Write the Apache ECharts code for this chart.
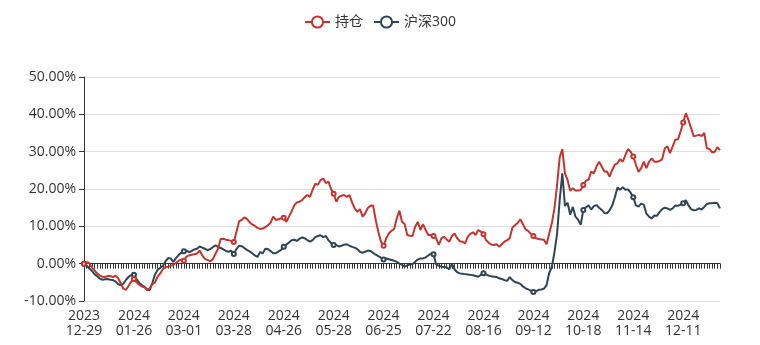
<!DOCTYPE html>
<html>
<head>
<meta charset="utf-8">
<script src="https://cdn.jsdelivr.net/npm/echarts@6/dist/echarts.min.js"></script>
<style>
  html, body { margin: 0; padding: 0; background: #fff; }
  #chart { width: 760px; height: 345px; }
</style>
</head>
<body>
<div id="chart"></div>
<script>
// Trading days, 2023-12-29 through 2024-12-31
const dates = [
  '2023-12-29',
  '2024-01-02','2024-01-03','2024-01-04','2024-01-05','2024-01-08','2024-01-09','2024-01-10','2024-01-11','2024-01-12',
  '2024-01-15','2024-01-16','2024-01-17','2024-01-18','2024-01-19','2024-01-22','2024-01-23','2024-01-24','2024-01-25',
  '2024-01-26','2024-01-29','2024-01-30','2024-01-31',
  '2024-02-01','2024-02-02','2024-02-05','2024-02-06','2024-02-07','2024-02-08','2024-02-19','2024-02-20','2024-02-21',
  '2024-02-22','2024-02-23','2024-02-26','2024-02-27','2024-02-28','2024-02-29',
  '2024-03-01','2024-03-04','2024-03-05','2024-03-06','2024-03-07','2024-03-08','2024-03-11','2024-03-12','2024-03-13',
  '2024-03-14','2024-03-15','2024-03-18','2024-03-19','2024-03-20','2024-03-21','2024-03-22','2024-03-25','2024-03-26',
  '2024-03-27','2024-03-28','2024-03-29',
  '2024-04-01','2024-04-02','2024-04-03','2024-04-08','2024-04-09','2024-04-10','2024-04-11','2024-04-12','2024-04-15',
  '2024-04-16','2024-04-17','2024-04-18','2024-04-19','2024-04-22','2024-04-23','2024-04-24','2024-04-25','2024-04-26',
  '2024-04-29','2024-04-30',
  '2024-05-06','2024-05-07','2024-05-08','2024-05-09','2024-05-10','2024-05-13','2024-05-14','2024-05-15','2024-05-16',
  '2024-05-17','2024-05-20','2024-05-21','2024-05-22','2024-05-23','2024-05-24','2024-05-27','2024-05-28','2024-05-29',
  '2024-05-30','2024-05-31',
  '2024-06-03','2024-06-04','2024-06-05','2024-06-06','2024-06-07','2024-06-11','2024-06-12','2024-06-13','2024-06-14',
  '2024-06-17','2024-06-18','2024-06-19','2024-06-20','2024-06-21','2024-06-24','2024-06-25','2024-06-26','2024-06-27',
  '2024-06-28',
  '2024-07-01','2024-07-02','2024-07-03','2024-07-04','2024-07-05','2024-07-08','2024-07-09','2024-07-10','2024-07-11',
  '2024-07-12','2024-07-15','2024-07-16','2024-07-17','2024-07-18','2024-07-19','2024-07-22','2024-07-23','2024-07-24',
  '2024-07-25','2024-07-26','2024-07-29','2024-07-30','2024-07-31',
  '2024-08-01','2024-08-02','2024-08-05','2024-08-06','2024-08-07','2024-08-08','2024-08-09','2024-08-12','2024-08-13',
  '2024-08-14','2024-08-15','2024-08-16','2024-08-19','2024-08-20','2024-08-21','2024-08-22','2024-08-23','2024-08-26',
  '2024-08-27','2024-08-28','2024-08-29','2024-08-30',
  '2024-09-02','2024-09-03','2024-09-04','2024-09-05','2024-09-06','2024-09-09','2024-09-10','2024-09-11','2024-09-12',
  '2024-09-13','2024-09-18','2024-09-19','2024-09-20','2024-09-23','2024-09-24','2024-09-25','2024-09-26','2024-09-27',
  '2024-09-30',
  '2024-10-08','2024-10-09','2024-10-10','2024-10-11','2024-10-14','2024-10-15','2024-10-16','2024-10-17','2024-10-18',
  '2024-10-21','2024-10-22','2024-10-23','2024-10-24','2024-10-25','2024-10-28','2024-10-29','2024-10-30','2024-10-31',
  '2024-11-01','2024-11-04','2024-11-05','2024-11-06','2024-11-07','2024-11-08','2024-11-11','2024-11-12','2024-11-13',
  '2024-11-14','2024-11-15','2024-11-18','2024-11-19','2024-11-20','2024-11-21','2024-11-22','2024-11-25','2024-11-26',
  '2024-11-27','2024-11-28','2024-11-29',
  '2024-12-02','2024-12-03','2024-12-04','2024-12-05','2024-12-06','2024-12-09','2024-12-10','2024-12-11','2024-12-12',
  '2024-12-13','2024-12-16','2024-12-17','2024-12-18','2024-12-19','2024-12-20','2024-12-23','2024-12-24','2024-12-25',
  '2024-12-26','2024-12-27','2024-12-30','2024-12-31'
];

// Cumulative return of the portfolio, percent
const holdings = [
  0, 0.4, 0.2, -1.0, -1.8, -2.6, -3.2, -3.5, -3.6, -3.3,
  -3.3, -3.6, -3.2, -3.9, -5.3, -6.7, -7.0, -5.9, -4.8, -4.1,
  -5.0, -5.6, -6.1, -6.3, -7.1, -6.6, -5.5, -5.0, -3.5, -2.6,
  -1.5, -0.9, -0.8, -0.6, -0.3, 0.2, 0.8, 1.1, 0.8, 1.9,
  2.2, 2.4, 2.5, 2.7, 3.5, 2.2, 1.3, 1.0, 0.6, 1.2,
  2.6, 4.0, 6.6, 6.7, 6.4, 6.3, 6.1, 5.8, 8.5, 11.3,
  11.7, 12.4, 12.0, 11.1, 10.5, 10.1, 9.6, 9.3, 9.4, 9.8,
  10.3, 11.0, 12.6, 11.7, 11.9, 12.2, 12.3, 11.2, 12.6, 14.0,
  15.6, 16.4, 16.6, 17.0, 17.8, 18.4, 17.9, 19.8, 21.4, 21.1,
  22.4, 22.8, 21.6, 22.0, 20.0, 18.7, 16.6, 17.9, 18.2, 18.4,
  17.9, 18.4, 16.4, 14.8, 13.9, 14.6, 12.6, 13.5, 14.9, 15.5,
  15.6, 11.7, 8.5, 5.9, 4.8, 6.8, 8.1, 8.8, 9.3, 12.1,
  14.2, 11.2, 10.6, 7.7, 7.5, 7.4, 9.9, 11.2, 9.0, 10.6,
  9.0, 7.7, 7.7, 7.4, 6.8, 5.0, 6.8, 7.2, 6.5, 5.9,
  7.4, 8.1, 6.8, 6.0, 5.9, 5.4, 7.2, 8.0, 8.4, 7.7,
  9.0, 8.6, 7.9, 6.3, 5.6, 5.1, 5.0, 5.2, 4.5, 5.2,
  5.9, 6.3, 6.8, 9.6, 10.3, 10.9, 11.9, 10.6, 9.2, 8.8,
  8.0, 7.4, 6.8, 6.6, 6.5, 6.4, 5.2, 8.0, 10.8, 14.8,
  21.0, 28.5, 30.7, 24.2, 22.4, 19.5, 20.2, 19.6, 19.6, 19.7,
  21.1, 22.2, 22.5, 24.7, 24.2, 26.0, 27.3, 26.0, 24.7, 24.7,
  23.3, 25.1, 26.5, 26.9, 28.0, 27.3, 29.1, 30.7, 30.0, 28.7,
  26.5, 24.6, 25.6, 27.3, 25.6, 27.3, 28.2, 27.3, 27.3, 27.5,
  28.0, 30.9, 31.4, 29.6, 31.4, 33.2, 33.3, 35.4, 37.8, 40.3,
  38.5, 36.3, 34.1, 34.3, 34.5, 34.2, 35.0, 30.9, 30.7, 29.8,
  30.0, 31.2, 30.4
];

// Cumulative return of the CSI 300 index, percent
const csi300 = [
  0, -0.5, -1.3, -1.9, -2.8, -3.4, -4.0, -4.3, -4.2, -4.1,
  -4.3, -4.4, -4.8, -5.5, -5.8, -5.3, -4.3, -3.5, -3.1, -3.0,
  -4.1, -5.1, -5.7, -6.2, -6.9, -7.1, -5.2, -2.9, -1.7, -1.1,
  -0.6, 0.6, 1.5, 1.4, 0.5, 1.5, 2.3, 2.9, 3.3, 3.5,
  3.1, 3.4, 3.8, 4.0, 4.6, 4.3, 4.0, 3.6, 3.9, 4.4,
  4.9, 4.5, 4.2, 3.8, 3.4, 3.2, 3.5, 2.6, 3.9, 4.8,
  4.7, 4.2, 3.7, 3.3, 2.8, 2.2, 1.8, 3.1, 2.8, 4.0,
  3.9, 3.4, 2.8, 2.8, 3.3, 3.7, 4.5, 5.1, 5.7, 6.3,
  6.4, 6.1, 6.7, 7.0, 6.8, 6.3, 5.9, 6.3, 7.1, 7.4,
  7.6, 7.1, 7.4, 6.3, 5.5, 5.0, 5.0, 4.6, 4.8, 5.1,
  5.2, 4.8, 4.5, 4.3, 3.9, 3.2, 2.9, 3.2, 3.5, 3.4,
  2.9, 2.4, 2.0, 1.6, 1.1, 1.4, 1.2, 1.0, 0.8, 0.5,
  0.0, -0.3, -0.8, -0.5, -0.1, -0.2, 0.5, 1.1, 1.4, 1.4,
  1.7, 2.2, 2.7, 2.5, -0.2, -0.6, -0.8, -0.9, -1.0, -1.5,
  -0.1, -1.5, -2.3, -2.6, -2.7, -2.8, -2.9, -3.0, -3.1, -3.3,
  -3.5, -3.0, -2.6, -2.9, -3.2, -3.4, -3.5, -3.6, -3.9, -4.1,
  -4.4, -4.6, -3.6, -4.4, -4.9, -5.1, -5.4, -6.1, -6.6, -6.9,
  -7.2, -7.6, -7.4, -7.0, -6.9, -6.7, -5.8, -2.5, -0.9, 3.0,
  8.0, 17.0, 24.2, 15.5, 16.3, 13.1, 15.2, 12.6, 11.8, 10.4,
  14.4, 15.1, 15.6, 14.5, 15.4, 15.7, 15.0, 14.4, 13.6, 13.5,
  14.3, 15.6, 17.8, 20.4, 19.8, 20.5, 19.8, 19.9, 19.0, 17.8,
  15.6, 15.3, 16.1, 15.8, 13.4, 12.6, 12.1, 12.9, 12.8, 13.8,
  14.6, 15.0, 14.8, 14.4, 14.8, 15.6, 15.5, 15.8, 16.2, 17.0,
  15.6, 14.6, 14.3, 14.4, 14.8, 14.5, 15.2, 16.0, 16.2, 16.2,
  16.3, 16.2, 14.8
];

const seriesNames = ['持仓', '沪深300'];
const palette = ['#c23531', '#2f4554'];
const yTicks = { min: -10, max: 50, step: 10 };

const FONT = '"Open Sans", "Noto Sans CJK SC", sans-serif';
const chart = echarts.init(document.getElementById('chart'), null, { renderer: 'canvas' });

chart.setOption({
  animation: false,
  color: palette,
  textStyle: { fontFamily: FONT },
  legend: {
    top: 10,
    left: 'center',
    itemWidth: 25,
    itemHeight: 14,
    itemGap: 10,
    textStyle: { fontSize: 14, color: '#333', fontFamily: FONT },
    data: seriesNames
  },
  grid: {
    left: 84, right: 40, top: 77, bottom: 44,
    containLabel: false,
    outerBoundsMode: 'none'
  },
  xAxis: {
    type: 'category',
    data: dates,
    boundaryGap: false,
    axisLine: { onZero: true, lineStyle: { color: '#333', width: 1 } },
    axisTick: { show: true, interval: 0, length: 5, lineStyle: { color: '#333' } },
    axisLabel: {
      interval: 18,
      margin: 8,
      fontSize: 14,
      lineHeight: 15,
      color: '#333',
      fontFamily: FONT,
      formatter: v => v.slice(0, 4) + '\n' + v.slice(5)
    },
    splitLine: { show: false }
  },
  yAxis: {
    type: 'value',
    min: yTicks.min,
    max: yTicks.max,
    interval: yTicks.step,
    axisLine: { show: true, lineStyle: { color: '#333' } },
    axisTick: { show: true, length: 5, lineStyle: { color: '#333' } },
    axisLabel: {
      fontSize: 14,
      color: '#333',
      fontFamily: FONT,
      formatter: v => v.toFixed(2) + '%'
    },
    splitLine: { show: true, lineStyle: { color: '#ddd', width: 1 } }
  },
  series: [
    {
      name: seriesNames[0],
      type: 'line',
      data: holdings,
      symbol: 'emptyCircle',
      symbolSize: 4,
      lineStyle: { width: 2 },
      z: 3
    },
    {
      name: seriesNames[1],
      type: 'line',
      data: csi300,
      symbol: 'emptyCircle',
      symbolSize: 4,
      lineStyle: { width: 2 },
      z: 2
    }
  ]
});
</script>
</body>
</html>
